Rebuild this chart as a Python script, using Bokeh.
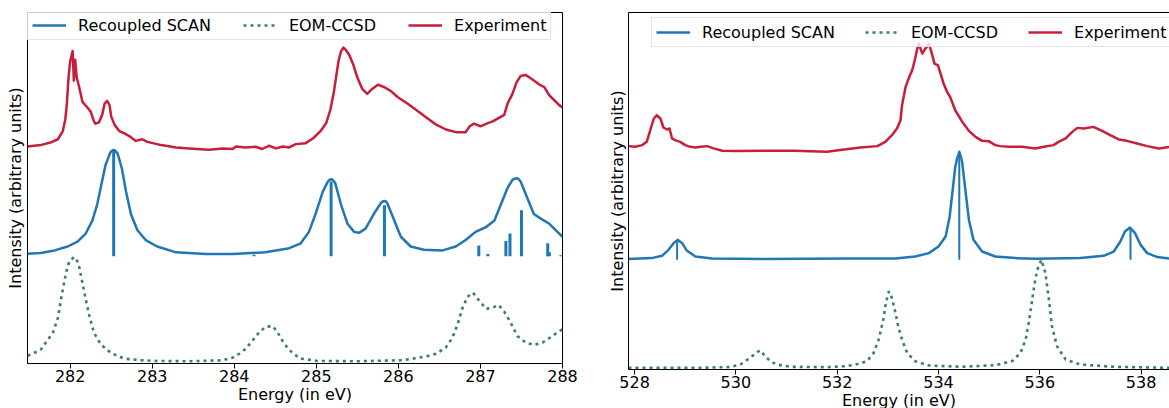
from bokeh.plotting import figure
from bokeh.layouts import row
from bokeh.models import Range1d, FixedTicker, Legend, LegendItem, LinearAxis
from bokeh.embed import file_html
from bokeh.resources import INLINE

# ---------------- data: carbon K-edge (left panel) ----------------
left_ticks = [282, 283, 284, 285, 286, 287, 288]

left_exp_e = [281.48, 281.64, 281.76, 281.85, 281.91, 281.94, 281.96, 281.98, 282.00, 282.03, 282.045, 282.06,
              282.08, 282.11, 282.15, 282.21, 282.25, 282.29, 282.31, 282.35, 282.39, 282.42, 282.45, 282.48,
              282.50, 282.54, 282.60, 282.66, 282.72, 282.80, 282.88, 282.94, 283.11, 283.29, 283.45, 283.69,
              283.86, 283.98, 284.02, 284.14, 284.26, 284.34, 284.42, 284.51, 284.59, 284.67, 284.75, 284.87,
              284.97, 285.05, 285.12, 285.17, 285.21, 285.24, 285.27, 285.30, 285.33, 285.36, 285.40, 285.45,
              285.50, 285.56, 285.62, 285.68, 285.75, 285.83, 285.91, 285.99, 286.11, 286.23, 286.39, 286.46,
              286.58, 286.70, 286.82, 286.87, 286.92, 287.00, 287.09, 287.15, 287.29, 287.33, 287.39, 287.44,
              287.49, 287.55, 287.63, 287.71, 287.78, 287.84, 287.90, 287.96, 288.00]
left_exp_i = [222.6, 224, 226.6, 230, 238.3, 250, 266.6, 293.3, 310, 320.6, 290, 311.6,
              293.3, 283.3, 268.3, 262.6, 258.3, 248.3, 246, 247.3, 255, 266.6, 269.3, 265,
              253.3, 245, 238.3, 236, 233.3, 228.3, 230, 227.3, 224, 221.6, 220.6, 219.3,
              220.6, 220, 222.6, 221.6, 222.3, 220, 223.3, 220.6, 222.6, 221.6, 225, 226,
              231.6, 238.3, 246.6, 260, 276.6, 293.3, 310, 320, 324, 321.6, 316.6, 306.6,
              293.3, 281.6, 276.6, 281.6, 286, 283.3, 279.3, 273.3, 266.6, 259.3, 249.3, 245,
              240, 237.3, 237.3, 243.3, 246, 243.3, 246.6, 248.3, 255, 266.6, 276.6, 288.3,
              295, 296, 291.6, 286.6, 283.3, 275, 270, 265, 262.6]

left_calc_e = [281.48, 281.64, 281.81, 281.97, 282.09, 282.19, 282.27, 282.33, 282.38, 282.43, 282.49, 282.51,
               282.53, 282.55, 282.58, 282.63, 282.68, 282.74, 282.82, 282.92, 283.06, 283.29, 283.65, 283.98,
               284.38, 284.67, 284.81, 284.91, 284.99, 285.08, 285.14, 285.16, 285.18, 285.20, 285.23, 285.30,
               285.38, 285.46, 285.52, 285.60, 285.70, 285.79, 285.81, 285.83, 285.85, 285.87, 285.95, 286.03,
               286.15, 286.31, 286.54, 286.70, 286.82, 286.94, 287.07, 287.17, 287.25, 287.33, 287.39, 287.42,
               287.44, 287.46, 287.49, 287.57, 287.65, 287.74, 287.84, 287.92, 288.00]
left_calc_i = [112.6, 113.3, 116, 120, 125, 133.3, 146.6, 163.3, 183.3, 203.3, 216.6, 218.3,
               219, 218.3, 215, 200, 176.6, 153.3, 136.6, 126.6, 120, 114, 112.3, 112.3,
               114, 118.3, 123.3, 135, 153.3, 176.6, 186.6, 188.3, 189, 188.3, 185, 163.3,
               143.3, 135, 134, 138.3, 153.3, 165, 166.2, 166.6, 166.2, 163.3, 146.6, 130,
               120, 116.6, 116, 120, 126.6, 135, 140, 146.6, 163.3, 180, 188.3, 189.6,
               190, 189.6, 186.6, 170, 153.3, 148.3, 143.3, 136.6, 130]

left_stick_e = [282.53, 284.24, 285.18, 285.83, 286.98, 287.09, 287.31, 287.36, 287.50, 287.82, 287.84, 287.98]
left_stick_h = [108.3, 1.5, 76.6, 52.3, 11, 2.3, 15.6, 23.3, 47.3, 13.3, 4, 1]
left_stick_base = 110

left_eom_e = [281.48, 281.54, 281.64, 281.72, 281.79, 281.85, 281.89, 281.92, 281.95, 281.99, 282.05, 282.10,
              282.14, 282.18, 282.23, 282.29, 282.37, 282.50, 282.66, 282.86, 283.06, 283.45, 283.86, 283.98,
              284.06, 284.14, 284.22, 284.30, 284.38, 284.47, 284.53, 284.61, 284.71, 284.81, 285.01, 285.50,
              286.03, 286.23, 286.39, 286.46, 286.58, 286.66, 286.72, 286.78, 286.84, 286.91, 286.98, 287.07,
              287.15, 287.22, 287.29, 287.37, 287.45, 287.55, 287.65, 287.76, 287.88, 287.96, 288.00]
left_eom_i = [8, 10, 14, 23.3, 31.6, 46.6, 66.6, 80, 93.3, 105, 109.3, 103.3,
              86.6, 70, 50, 31.6, 20, 10.6, 5, 3.3, 2.6, 2.3, 3.3, 6,
              10, 15, 23.3, 31.6, 37.6, 38.3, 31.6, 20, 10.6, 5, 2.6, 2.3,
              3.3, 5.6, 8.3, 10, 16.6, 26.6, 40, 56.6, 68.3, 72.6, 65, 56,
              57.3, 60, 53.3, 41.6, 28.3, 21.6, 19, 21.6, 28.3, 33.3, 35]

# ---------------- data: oxygen K-edge (right panel) ----------------
right_ticks = [528, 530, 532, 534, 536, 538]

right_exp_e = [527.88, 528.01, 528.15, 528.24, 528.31, 528.38, 528.44, 528.51, 528.57, 528.64, 528.69, 528.74,
               528.80, 528.90, 529.00, 529.10, 529.20, 529.30, 529.43, 529.56, 529.73, 529.99, 530.58, 531.14,
               531.80, 532.06, 532.46, 532.79, 532.95, 533.08, 533.18, 533.25, 533.28, 533.35, 533.41, 533.48,
               533.53, 533.58, 533.61, 533.68, 533.74, 533.81, 533.87, 533.92, 533.99, 534.04, 534.10, 534.17,
               534.23, 534.33, 534.47, 534.60, 534.73, 534.86, 534.99, 535.12, 535.22, 535.39, 535.65, 535.91,
               536.08, 536.27, 536.37, 536.51, 536.64, 536.74, 536.87, 537.06, 537.23, 537.39, 537.56, 537.72,
               537.92, 538.12, 538.35, 538.56]
right_exp_i = [224, 223.3, 225, 228.3, 240, 251.7, 255, 251.7, 242.7, 240.7, 241.7, 231.7,
               230, 228.3, 225, 223.3, 222.7, 223.3, 224, 221.7, 219.3, 219, 219.3, 219.3,
               218.3, 220, 222.7, 224, 228.3, 235, 241.7, 250, 265, 283.3, 291.7, 300,
               310, 321.7, 326.7, 316.7, 321.7, 326.7, 316.7, 306.7, 305, 296.7, 286.7, 278.3,
               273.3, 260, 248.3, 239.3, 233.3, 229.3, 229, 225, 224, 223.3, 223.3, 221.7,
               223.3, 225, 228.3, 231.7, 238.3, 242.3, 241.7, 243.3, 239.3, 235, 230.7, 229.3,
               226.7, 224, 221.7, 223.3]

right_calc_e = [527.88, 528.34, 528.54, 528.67, 528.77, 528.85, 528.94, 529.03, 529.20, 529.53, 530.58, 532.26,
                533.15, 533.54, 533.81, 534.00, 534.14, 534.22, 534.28, 534.33, 534.37, 534.41, 534.45, 534.47,
                534.53, 534.60, 534.69, 534.86, 535.12, 535.52, 535.91, 536.80, 537.26, 537.46, 537.59, 537.68,
                537.78, 537.88, 537.99, 538.12, 538.32, 538.56]
right_calc_i = [110.7, 111.7, 114, 120, 126.7, 130, 126.7, 119.3, 113.3, 111.3, 110.7, 111.3,
                111.3, 113.3, 116.7, 123.3, 133.3, 153.3, 180, 203.3, 212, 218.3, 212, 206.7,
                180, 150, 130, 118.3, 113.3, 111.7, 111, 111.7, 114, 118.3, 128.3, 138.3,
                142.3, 136.7, 125, 116.7, 112.7, 111.3]

right_stick_e = [528.84, 534.41, 537.79]
right_stick_h = [18.3, 106.7, 30]
right_stick_base = 110

right_eom_e = [527.88, 529.30, 529.89, 530.09, 530.28, 530.40, 530.48, 530.58, 530.68, 530.81, 531.07, 531.80,
               532.19, 532.45, 532.59, 532.72, 532.82, 532.91, 532.96, 533.02, 533.08, 533.15, 533.21, 533.28,
               533.38, 533.54, 533.81, 534.47, 535.12, 535.45, 535.62, 535.72, 535.78, 535.85, 535.90, 535.95,
               536.03, 536.11, 536.18, 536.24, 536.34, 536.51, 536.80, 537.46, 538.56]
right_eom_i = [1.7, 1.7, 2.5, 5, 11.7, 16.7, 19.3, 13.3, 8.3, 5, 2.7, 2.3,
               3.3, 6, 8.3, 16.7, 30, 50, 66.7, 78.3, 71.7, 56.7, 42, 30,
               16.7, 8.3, 4, 2.7, 4.3, 8.3, 16.7, 30, 46.7, 70, 87, 100,
               110, 96.7, 70, 43.3, 23.3, 10, 5, 2.7, 1.7]

series_labels = ["Recoupled SCAN", "EOM-CCSD", "Experiment"]
x_label = "Energy (in eV)"
y_label = "Intensity (arbitrary units)"

# ---------------- styles ----------------
BLUE = "#1f77b4"
GREEN = "#3a7f6b"
RED = "#c81e3c"
FONT = "DejaVu Sans"
FS = "16px"


def style_xaxis(p, ticks, label_standoff):
    ax = p.xaxis[0]
    ax.ticker = FixedTicker(ticks=ticks)
    ax.major_label_text_font = FONT
    ax.major_label_text_font_size = FS
    ax.major_label_text_color = "black"
    ax.major_tick_out = 5
    ax.major_tick_in = 0
    ax.minor_tick_out = 0
    ax.minor_tick_in = 0
    ax.major_tick_line_color = "black"
    ax.axis_line_color = "black"
    ax.major_label_standoff = 1
    ax.axis_label = x_label
    ax.axis_label_text_font = FONT
    ax.axis_label_text_font_size = FS
    ax.axis_label_text_font_style = "normal"
    ax.axis_label_text_color = "black"
    ax.axis_label_standoff = label_standoff


def style_yaxis(p, label_standoff, line_color):
    ax = p.yaxis[0]
    ax.ticker = FixedTicker(ticks=[])
    ax.major_label_text_font_size = "0px"
    ax.major_tick_out = 0
    ax.major_tick_in = 0
    ax.minor_tick_out = 0
    ax.minor_tick_in = 0
    ax.major_label_standoff = 0
    ax.axis_line_color = line_color
    ax.axis_label = y_label
    ax.axis_label_text_font = FONT
    ax.axis_label_text_font_size = FS
    ax.axis_label_text_font_style = "normal"
    ax.axis_label_text_color = "black"
    ax.axis_label_standoff = label_standoff


def make_panel(width, height, mbl, mbr, mbt, mbb, xr, yr):
    p = figure(width=width, height=height, output_backend="svg", toolbar_location=None,
               x_range=Range1d(*xr), y_range=Range1d(*yr))
    p.min_border_left = mbl
    p.min_border_right = mbr
    p.min_border_top = mbt
    p.min_border_bottom = mbb
    p.grid.visible = False
    p.background_fill_color = "white"
    p.border_fill_color = "white"
    return p


def draw(p, calc_e, calc_i, st_e, st_h, st_base, st_w, eom_e, eom_i, exp_e, exp_i):
    r_calc = p.line(calc_e, calc_i, line_color=BLUE, line_width=2.5, line_join="round")
    p.segment(x0=st_e, y0=[st_base] * len(st_e), x1=st_e, y1=[st_base + h for h in st_h],
              line_color=BLUE, line_width=st_w)
    r_eom = p.line(eom_e, eom_i, line_color=GREEN, line_width=2.6, line_dash="3 4")
    r_exp = p.line(exp_e, exp_i, line_color=RED, line_width=2.5, line_join="round")
    return [r_calc, r_eom, r_exp]


def add_legend(p, rends, loc, spacing):
    items = [LegendItem(label=lab, renderers=[r]) for lab, r in zip(series_labels, rends)]
    lg = Legend(items=items, orientation="horizontal", location=loc, margin=0, padding=4,
                spacing=spacing, glyph_width=34, glyph_height=20, label_standoff=12,
                label_text_font=FONT, label_text_font_size=FS, label_text_color="black",
                border_line_color="#cccccc", border_line_width=1,
                background_fill_color="white", background_fill_alpha=0.8)
    p.add_layout(lg)


# ---------------- left panel ----------------
p1 = make_panel(590, 408, 27, 28, 3, 45, (281.48, 288.0), (0, 360))
p1.outline_line_color = "black"
p1.outline_line_width = 1
style_xaxis(p1, left_ticks, 0)
style_yaxis(p1, 3, None)
r1 = draw(p1, left_calc_e, left_calc_i, left_stick_e, left_stick_h, left_stick_base, 3,
          left_eom_e, left_eom_i, left_exp_e, left_exp_i)
add_legend(p1, r1, (0, 323), 32)

# ---------------- right panel (its lower edge is cut by the page, as in the source) ----------------
p2 = make_panel(579, 414, 38, 0, 12, 44, (527.88, 538.56), (0, 358))
p2.outline_line_color = None
style_xaxis(p2, right_ticks, 0)
style_yaxis(p2, 2, "black")
top_ax = LinearAxis(ticker=FixedTicker(ticks=[]), major_label_text_font_size="0px",
                    major_tick_out=0, major_tick_in=0, minor_tick_out=0, minor_tick_in=0,
                    major_label_standoff=0, axis_label_standoff=0, axis_line_color="black")
p2.add_layout(top_ax, "above")
r2 = draw(p2, right_calc_e, right_calc_i, right_stick_e, right_stick_h, right_stick_base, 2,
          right_eom_e, right_eom_i, right_exp_e, right_exp_i)
add_legend(p2, r2, (23, 322), 30)

layout = row(p1, p2)
open("out.html", "w").write(file_html(layout, INLINE))
